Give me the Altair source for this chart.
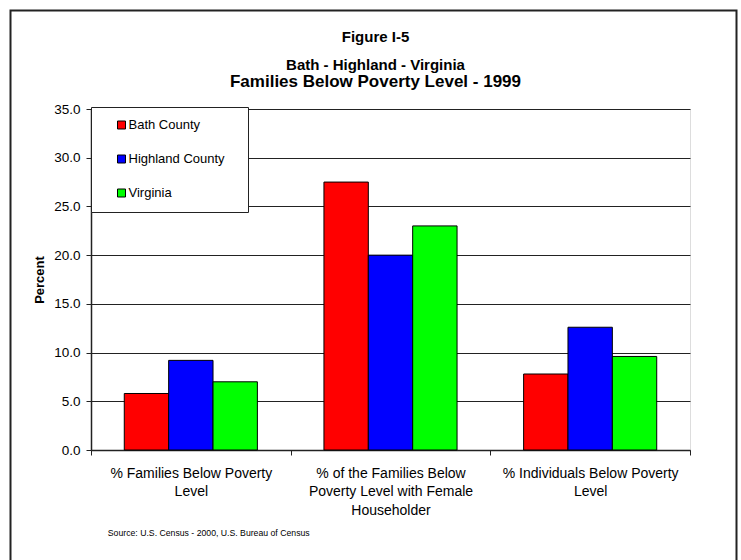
import altair as alt
import pandas as pd

FONT = "Liberation Sans"

# Poverty measures (percent), Census 2000 / 1999 income
categories = [
    "% Families Below Poverty Level",
    "% of the Families Below Poverty Level with Female Householder",
    "% Individuals Below Poverty Level",
]
category_lines = [
    ["% Families Below Poverty", "Level"],
    ["% of the Families Below", "Poverty Level with Female", "Householder"],
    ["% Individuals Below Poverty", "Level"],
]
series = ["Bath County", "Highland County", "Virginia"]
series_colors = ["#FF0000", "#0000FF", "#00FF00"]

bath = [5.8, 27.5, 7.8]
highland = [9.2, 20.0, 12.6]
virginia = [7.0, 23.0, 9.6]

rows = []
for name, vals in zip(series, [bath, highland, virginia]):
    for cat, v in zip(categories, vals):
        rows.append({"measure": cat, "area": name, "percent": v})
df = pd.DataFrame(rows)

# wrapped category labels (anything else, e.g. the closing band tick, gets no text)
label_expr = ""
for cat, lines in zip(categories, category_lines):
    arr = "[" + ", ".join("'" + l + "'" for l in lines) + "]"
    label_expr += f"datum.label == '{cat}' ? {arr} : "
label_expr += "''"

W, H = 599, 341

bars = alt.Chart(df).mark_bar(stroke="black", strokeWidth=1).encode(
    x=alt.X(
        "measure:N",
        sort=categories,
        scale=alt.Scale(paddingInner=0, paddingOuter=0),
        axis=alt.Axis(
            title="Source: U.S. Census - 2000, U.S. Bureau of Census",
            titleFont=FONT, titleFontSize=8.7, titleFontWeight="normal",
            titleColor="black", titleAnchor="start", titleAlign="left",
            titleBaseline="middle", titleX=16.3, titleY=82,
            labelExpr=label_expr, labelAngle=0, labelFont=FONT,
            labelFontSize=14, labelLineHeight=18.5, labelColor="black",
            labelPadding=11, labelLimit=300,
            tickBand="extent", tickSize=5, tickColor="#222", tickWidth=1,
            domainColor="#222", domainWidth=1.5,
        ),
    ),
    xOffset=alt.XOffset(
        "area:N", sort=series,
        scale=alt.Scale(paddingInner=0, paddingOuter=0.75),
    ),
    y=alt.Y(
        "percent:Q",
        scale=alt.Scale(domain=[0, 35], nice=False),
        axis=alt.Axis(
            title="Percent", titleFont=FONT, titleFontSize=13,
            titleFontWeight="bold", titleColor="black", titlePadding=7,
            values=[0, 5, 10, 15, 20, 25, 30, 35], format=".1f",
            labelFont=FONT, labelFontSize=13.5, labelColor="black",
            labelPadding=6, tickSize=5, tickColor="#222",
            domainColor="#222", domainWidth=1.5,
            grid=True, gridColor="#222", gridWidth=1,
        ),
    ),
    fill=alt.Fill(
        "area:N",
        scale=alt.Scale(domain=series, range=series_colors),
        legend=alt.Legend(
            # a blank title on the right side leaves room inside the box
            title="\u00a0", titleOrient="right", titlePadding=12,
            titleFontSize=2,
            orient="none", legendX=0, legendY=-2,
            fillColor="white", strokeColor="#222", padding=11.5,
            rowPadding=20, symbolType="square", symbolSize=64,
            symbolStrokeColor="black", symbolStrokeWidth=1,
            symbolOffset=12.5, labelOffset=0.5,
            labelFont=FONT, labelFontSize=13, labelColor="black",
        ),
    ),
)

# outer page frame
frame = alt.Chart(pd.DataFrame({"f": [0]})).mark_rect(
    fill=None, stroke="#222", strokeWidth=2, clip=False
).encode(
    x=alt.value(-80.5), x2=alt.value(645.5),
    y=alt.value(-98.5), y2=alt.value(470),
)

chart = alt.layer(frame, bars).properties(
    width=W, height=H,
    title=alt.Title(
        text=["Figure I-5", "Bath - Highland - Virginia"],
        subtitle="Families Below Poverty Level - 1999",
        font=FONT, fontSize=15, fontWeight="bold", color="black",
        lineHeight=28,
        subtitleFont=FONT, subtitleFontSize=17, subtitleFontWeight="bold",
        subtitleColor="black", subtitlePadding=1,
        anchor="middle", frame="group", dx=-15, dy=98.5, offset=18,
    ),
    autosize=alt.AutoSizeParams(type="none"),
    padding={"left": 91, "top": 109, "right": 51, "bottom": 110},
).configure_view(
    stroke="#333", strokeWidth=1.5
).configure(background="white")

chart.save("out.html", embed_options={"renderer": "svg", "actions": False})
